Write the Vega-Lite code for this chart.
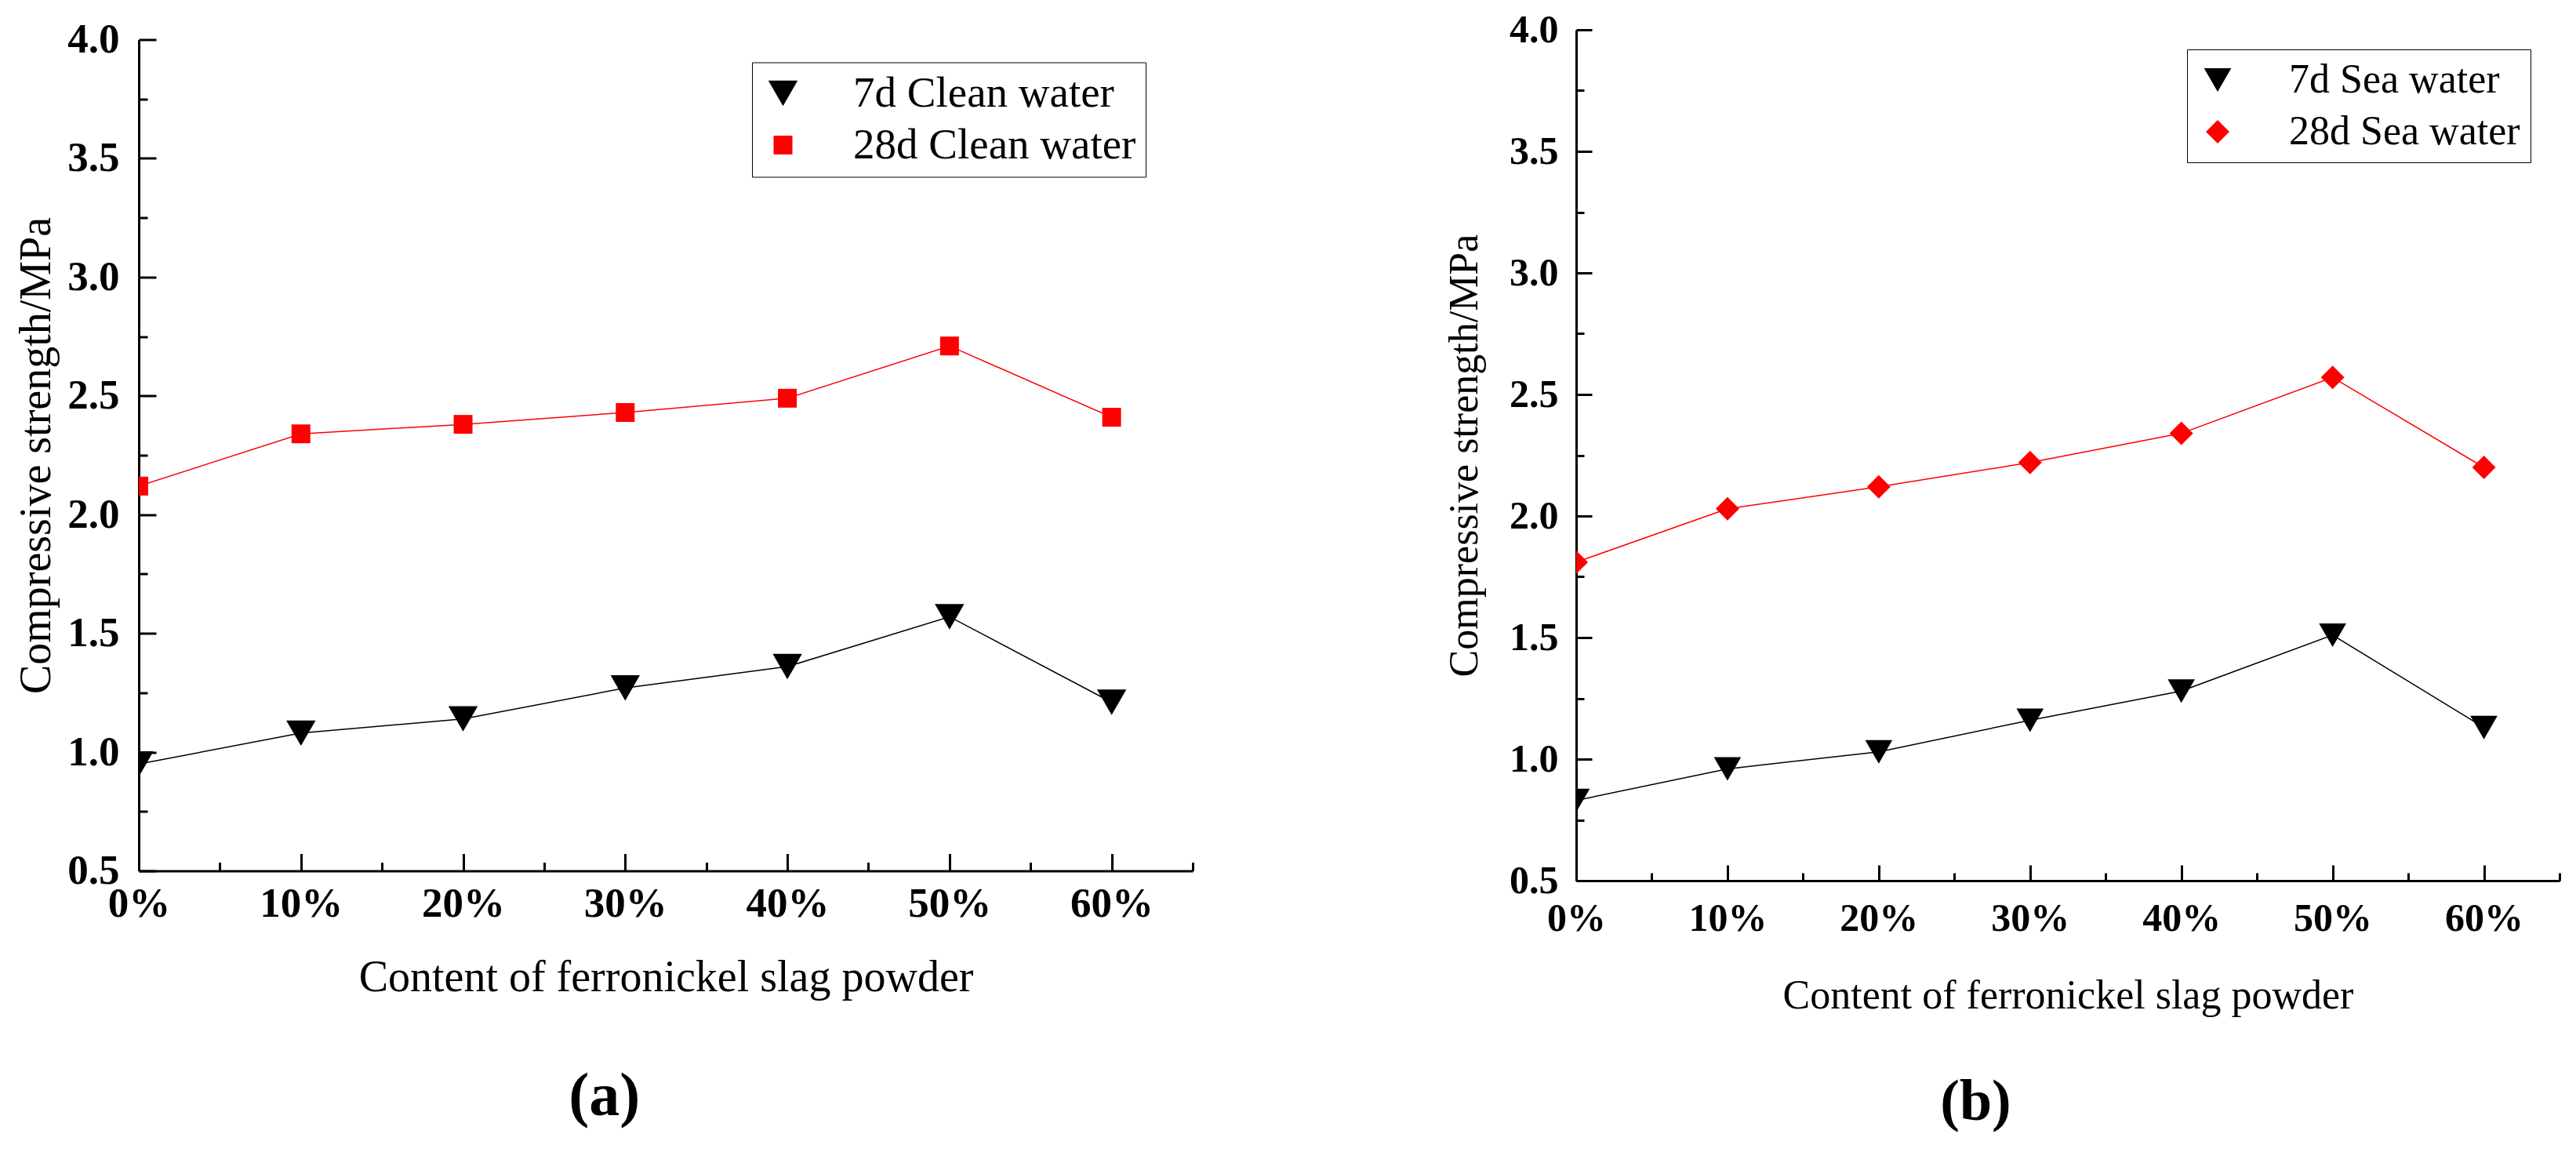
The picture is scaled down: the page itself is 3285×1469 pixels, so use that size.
{
  "$schema": "https://vega.github.io/schema/vega-lite/v6.json",
  "description": "Compressive strength vs ferronickel slag powder content, clean water (a) and sea water (b).",
  "background": "white",
  "padding": {"left": 18, "top": 13, "right": 10, "bottom": 10},
  "config": {
    "view": {"stroke": null},
    "font": "Liberation Serif",
    "axis": {
      "grid": false,
      "domainColor": "black",
      "domainWidth": 3,
      "tickColor": "black",
      "tickWidth": 3,
      "labelColor": "black",
      "titleColor": "black",
      "labelFont": "Liberation Serif",
      "labelFontWeight": "bold",
      "titleFont": "Liberation Serif",
      "titleFontWeight": "normal",
      "labelFlush": false,
      "labelOverlap": false
    }
  },
  "datasets": {
    "strength": [
      {"panel": "a", "series": "7d Clean water", "content": 0, "strength": 0.95},
      {"panel": "a", "series": "7d Clean water", "content": 10, "strength": 1.08},
      {"panel": "a", "series": "7d Clean water", "content": 20, "strength": 1.14},
      {"panel": "a", "series": "7d Clean water", "content": 30, "strength": 1.27},
      {"panel": "a", "series": "7d Clean water", "content": 40, "strength": 1.36},
      {"panel": "a", "series": "7d Clean water", "content": 50, "strength": 1.57},
      {"panel": "a", "series": "7d Clean water", "content": 60, "strength": 1.21},
      {"panel": "a", "series": "28d Clean water", "content": 0, "strength": 2.12},
      {"panel": "a", "series": "28d Clean water", "content": 10, "strength": 2.34},
      {"panel": "a", "series": "28d Clean water", "content": 20, "strength": 2.38},
      {"panel": "a", "series": "28d Clean water", "content": 30, "strength": 2.43},
      {"panel": "a", "series": "28d Clean water", "content": 40, "strength": 2.49},
      {"panel": "a", "series": "28d Clean water", "content": 50, "strength": 2.71},
      {"panel": "a", "series": "28d Clean water", "content": 60, "strength": 2.41},
      {"panel": "b", "series": "7d Sea water", "content": 0, "strength": 0.83},
      {"panel": "b", "series": "7d Sea water", "content": 10, "strength": 0.96},
      {"panel": "b", "series": "7d Sea water", "content": 20, "strength": 1.03},
      {"panel": "b", "series": "7d Sea water", "content": 30, "strength": 1.16},
      {"panel": "b", "series": "7d Sea water", "content": 40, "strength": 1.28},
      {"panel": "b", "series": "7d Sea water", "content": 50, "strength": 1.51},
      {"panel": "b", "series": "7d Sea water", "content": 60, "strength": 1.13},
      {"panel": "b", "series": "28d Sea water", "content": 0, "strength": 1.81},
      {"panel": "b", "series": "28d Sea water", "content": 10, "strength": 2.03},
      {"panel": "b", "series": "28d Sea water", "content": 20, "strength": 2.12},
      {"panel": "b", "series": "28d Sea water", "content": 30, "strength": 2.22},
      {"panel": "b", "series": "28d Sea water", "content": 40, "strength": 2.34},
      {"panel": "b", "series": "28d Sea water", "content": 50, "strength": 2.57},
      {"panel": "b", "series": "28d Sea water", "content": 60, "strength": 2.2}
    ]
  },
  "bounds": "flush",
  "center": true,
  "spacing": 489,
  "resolve": {
    "scale": {"color": "independent", "shape": "independent", "size": "independent", "x": "independent", "y": "independent"},
    "legend": {"color": "independent", "shape": "independent", "size": "independent"}
  },
  "hconcat": [
    {
      "width": 1344,
      "height": 1060,
      "data": {"name": "strength"},
      "transform": [{"filter": "datum.panel == 'a'"}],
      "title": {
        "text": "(a)",
        "orient": "bottom",
        "frame": "bounds",
        "anchor": "middle",
        "font": "Liberation Serif",
        "fontSize": 78,
        "fontWeight": "bold",
        "color": "black",
        "offset": 85
      },
      "encoding": {
        "x": {
          "field": "content",
          "type": "quantitative",
          "title": "Content of ferronickel slag powder",
          "scale": {"domain": [0, 65], "nice": false, "zero": false},
          "axis": {
            "values": [0, 5, 10, 15, 20, 25, 30, 35, 40, 45, 50, 55, 60, 65],
            "labelExpr": "datum.value % 10 == 0 ? datum.value + '%' : ''",
            "tickSize": {"condition": {"test": "datum.value % 10 == 0", "value": -22}, "value": -11},
            "labelFontSize": 53,
            "labelPadding": 38,
            "titleFontSize": 56,
            "titlePadding": 29
          }
        },
        "y": {
          "field": "strength",
          "type": "quantitative",
          "title": "Compressive strength/MPa",
          "scale": {"domain": [0.5, 4.0], "nice": false, "zero": false},
          "axis": {
            "values": [0.5, 0.75, 1.0, 1.25, 1.5, 1.75, 2.0, 2.25, 2.5, 2.75, 3.0, 3.25, 3.5, 3.75, 4.0],
            "labelExpr": "abs(datum.value * 2 - round(datum.value * 2)) < 0.001 ? format(datum.value, '.1f') : ''",
            "tickSize": {"condition": {"test": "abs(datum.value * 2 - round(datum.value * 2)) < 0.001", "value": -22}, "value": -11},
            "labelFontSize": 53,
            "labelPadding": 47,
            "titleFontSize": 56,
            "titlePadding": 10
          }
        }
      },
      "layer": [
        {
          "transform": [{"filter": "indexof(datum.series, '7d') == 0"}],
          "mark": {"type": "line", "strokeWidth": 1.5, "color": "black", "clip": true},
          "encoding": {}
        },
        {
          "transform": [{"filter": "indexof(datum.series, '28d') == 0"}],
          "mark": {"type": "line", "strokeWidth": 1.5, "color": "#ff0000", "clip": true},
          "encoding": {}
        },
        {
          "mark": {"type": "point", "filled": true, "opacity": 1, "clip": true},
          "encoding": {
            "color": {
              "field": "series",
              "type": "nominal",
              "scale": {"domain": ["7d Clean water", "28d Clean water"], "range": ["black", "#ff0000"]},
              "legend": {
                "orient": "none", "legendX": 782, "legendY": 29, "title": null,
                "strokeColor": "black", "fillColor": "white", "padding": 12,
                "labelFont": "Liberation Serif", "labelFontSize": 55, "labelColor": "black",
                "labelOffset": 62, "labelLimit": 0, "rowPadding": 10, "symbolSize": 1089
              }
            },
            "shape": {
              "field": "series",
              "type": "nominal",
              "scale": {"domain": ["7d Clean water", "28d Clean water"], "range": ["triangle-down", "square"]}
            },
            "size": {
              "field": "series",
              "type": "ordinal",
              "scale": {"domain": ["7d Clean water", "28d Clean water"], "range": [1400, 576]}
            }
          }
        }
      ]
    },
    {
      "width": 1254,
      "height": 1085,
      "data": {"name": "strength"},
      "transform": [{"filter": "datum.panel == 'b'"}],
      "title": {
        "text": "(b)",
        "orient": "bottom",
        "frame": "bounds",
        "anchor": "middle",
        "font": "Liberation Serif",
        "fontSize": 74,
        "fontWeight": "bold",
        "color": "black",
        "offset": 75,
        "dx": -34
      },
      "encoding": {
        "x": {
          "field": "content",
          "type": "quantitative",
          "title": "Content of ferronickel slag powder",
          "scale": {"domain": [0, 65], "nice": false, "zero": false},
          "axis": {
            "values": [0, 5, 10, 15, 20, 25, 30, 35, 40, 45, 50, 55, 60, 65],
            "labelExpr": "datum.value % 10 == 0 ? datum.value + '%' : ''",
            "tickSize": {"condition": {"test": "datum.value % 10 == 0", "value": -20}, "value": -10},
            "labelFontSize": 50,
            "labelPadding": 43,
            "titleFontSize": 52,
            "titlePadding": 38
          }
        },
        "y": {
          "field": "strength",
          "type": "quantitative",
          "title": "Compressive strength/MPa",
          "scale": {"domain": [0.5, 4.0], "nice": false, "zero": false},
          "axis": {
            "values": [0.5, 0.75, 1.0, 1.25, 1.5, 1.75, 2.0, 2.25, 2.5, 2.75, 3.0, 3.25, 3.5, 3.75, 4.0],
            "labelExpr": "abs(datum.value * 2 - round(datum.value * 2)) < 0.001 ? format(datum.value, '.1f') : ''",
            "tickSize": {"condition": {"test": "abs(datum.value * 2 - round(datum.value * 2)) < 0.001", "value": -20}, "value": -10},
            "labelFontSize": 50,
            "labelPadding": 43,
            "titleFontSize": 52,
            "titlePadding": 30
          }
        }
      },
      "layer": [
        {
          "transform": [{"filter": "indexof(datum.series, '7d') == 0"}],
          "mark": {"type": "line", "strokeWidth": 1.5, "color": "black", "clip": true},
          "encoding": {}
        },
        {
          "transform": [{"filter": "indexof(datum.series, '28d') == 0"}],
          "mark": {"type": "line", "strokeWidth": 1.5, "color": "#ff0000", "clip": true},
          "encoding": {}
        },
        {
          "mark": {"type": "point", "filled": true, "opacity": 1, "clip": true},
          "encoding": {
            "color": {
              "field": "series",
              "type": "nominal",
              "scale": {"domain": ["7d Sea water", "28d Sea water"], "range": ["black", "#ff0000"]},
              "legend": {
                "orient": "none", "legendX": 779, "legendY": 25, "title": null,
                "strokeColor": "black", "fillColor": "white", "padding": 13,
                "labelFont": "Liberation Serif", "labelFontSize": 52, "labelColor": "black",
                "labelOffset": 65, "labelLimit": 0, "rowPadding": 14, "symbolSize": 900
              }
            },
            "shape": {
              "field": "series",
              "type": "nominal",
              "scale": {"domain": ["7d Sea water", "28d Sea water"], "range": ["triangle-down", "diamond"]}
            },
            "size": {
              "field": "series",
              "type": "ordinal",
              "scale": {"domain": ["7d Sea water", "28d Sea water"], "range": [1200, 900]}
            }
          }
        }
      ]
    }
  ]
}
